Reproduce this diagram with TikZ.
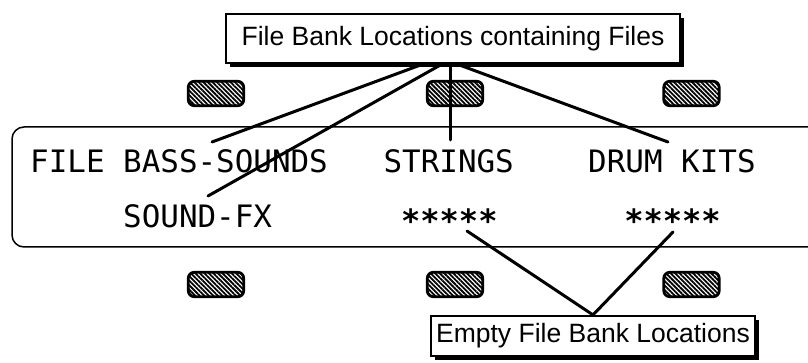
\documentclass[tikz,border=0pt]{standalone}
\usepackage{fontspec}
\setmainfont{Liberation Sans}
\newfontfamily\lcdfont{DejaVu Sans Mono}
\usetikzlibrary{patterns.meta,shadows}
\tikzset{
  lbl/.style={draw=black, line width=2.2pt, fill=white, inner sep=0pt,
    font=\fontsize{26.5}{28}\selectfont,
    drop shadow={shadow xshift=4pt, shadow yshift=-4pt, fill=black, opacity=1}},
  lcd/.style={font=\lcdfont\fontsize{30.9}{32}\selectfont, inner sep=0pt, anchor=base west},
  lcdstar/.style={font=\lcdfont\bfseries\fontsize{32}{32}\selectfont, inner sep=0pt, anchor=base west},
  btn/.style={draw=black, line width=2.8pt, rounded corners=6pt,
    pattern={Lines[angle=-45,distance=3.2pt,line width=1.8pt]},
    minimum width=55.4pt, minimum height=24.4pt, inner sep=0pt},
  ptr/.style={line width=3pt, line cap=round},
  panel/.style={line width=1.5pt, rounded corners=12pt},
}
\begin{document}
\begin{tikzpicture}[x=1pt,y=-1pt]
\useasboundingbox (0,0) rectangle (808,363);
% display panel
\draw[panel] (812,127) -- (12,127) -- (12,247) -- (812,247);
% buttons
\node[btn] (bt1) at (216,93.5) {};
\node[btn] (bt2) at (455,93.5) {};
\node[btn] (bt3) at (691.5,93.5) {};
\node[btn] (bb1) at (216,284.5) {};
\node[btn] (bb2) at (455,284.5) {};
\node[btn] (bb3) at (691.5,284.5) {};
% display text
\node[lcd] (row1a) at (30,173) {FILE BASS-SOUNDS};
\node[lcd] (strings) at (383.4,173) {STRINGS};
\node[lcd] (drum) at (588,173) {DRUM KITS};
\node[lcd] (soundfx) at (123,228) {SOUND-FX};
\node[lcdstar] (stars1) at (401,233) {*****};
\node[lcdstar] (stars2) at (624.2,233) {*****};
% labels
\node[lbl, minimum width=454pt, minimum height=49pt] (top) at (453,38.5) {File Bank Locations containing Files};
\node[lbl, minimum width=324pt, minimum height=40pt] (empty) at (593,336) {Empty File Bank Locations};
% pointer ends
\coordinate (pA) at (212,142);
\coordinate (pB) at (208,196);
\coordinate (pC) at (450,140);
\coordinate (pD) at (668,142);
\coordinate (pE) at (467,231);
\coordinate (pF) at (673,232);
% pointers
\draw[ptr] ([xshift=-30pt]top.south) -- (pA);
\draw[ptr] ([xshift=-11pt]top.south) -- (pB);
\draw[ptr] ([xshift=-3pt]top.south) -- (pC);
\draw[ptr] ([xshift=4pt]top.south) -- (pD);
\draw[ptr] (empty.north) -- (pE);
\draw[ptr] (empty.north) -- (pF);
\end{tikzpicture}
\end{document}
